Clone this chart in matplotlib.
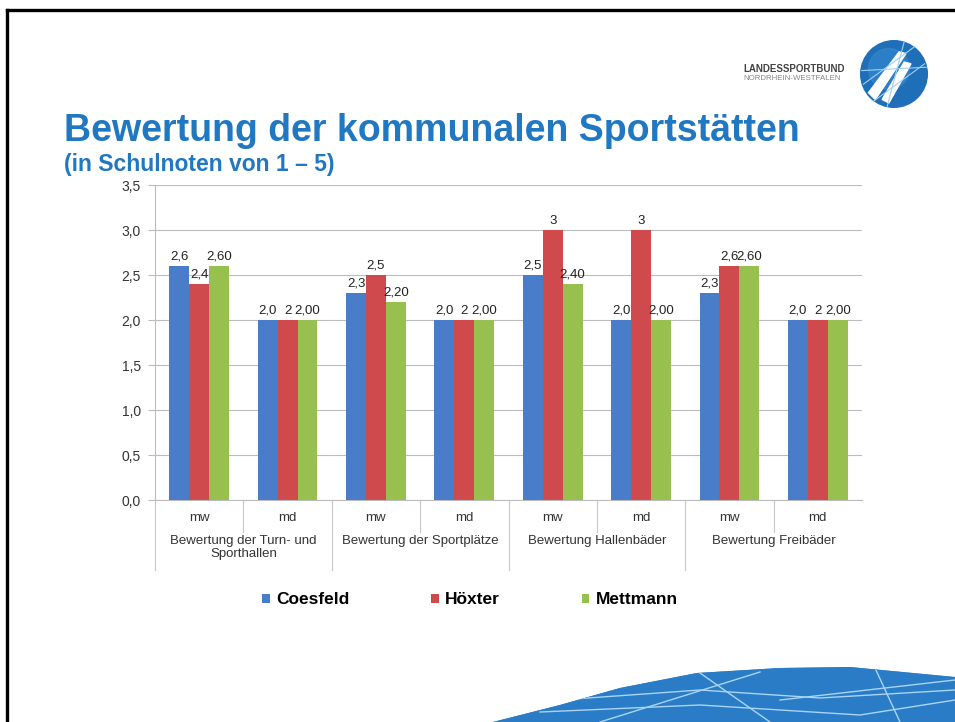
import matplotlib
matplotlib.use("Agg")
import matplotlib.pyplot as plt
import numpy as np
from matplotlib.patches import Circle, Polygon
from matplotlib.lines import Line2D

# ---- data ----
groups = ["Bewertung der Turn- und\nSporthallen", "Bewertung der Sportplätze",
          "Bewertung Hallenbäder", "Bewertung Freibäder"]
subcats = ["mw", "md"] * 4
series_names = ["Coesfeld", "Höxter", "Mettmann"]
coesfeld = [2.6, 2.0, 2.3, 2.0, 2.5, 2.0, 2.3, 2.0]
hoexter = [2.4, 2.0, 2.5, 2.0, 3.0, 3.0, 2.6, 2.0]
mettmann = [2.60, 2.00, 2.20, 2.00, 2.40, 2.00, 2.60, 2.00]
coesfeld_lbl = ["2,6", "2,0", "2,3", "2,0", "2,5", "2,0", "2,3", "2,0"]
hoexter_lbl = ["2,4", "2", "2,5", "2", "3", "3", "2,6", "2"]
mettmann_lbl = ["2,60", "2,00", "2,20", "2,00", "2,40", "2,00", "2,60", "2,00"]
yticks = [0.0, 0.5, 1.0, 1.5, 2.0, 2.5, 3.0, 3.5]
ytick_labels = ["0,0", "0,5", "1,0", "1,5", "2,0", "2,5", "3,0", "3,5"]

colors = ["#4a7dc9", "#cf4a4d", "#97c04f"]
title_blue = "#1f78c1"

W, H = 955, 722
fig = plt.figure(figsize=(W / 100, H / 100), dpi=100)
plt.rcParams['font.family'] = ['Liberation Sans', 'DejaVu Sans']

def fx(px):
    return px / W

def fy(py):
    return 1 - py / H

# frame lines (top and left)
fig.add_artist(Line2D([fx(7), 1], [fy(10), fy(10)], color="black", lw=2.4))
fig.add_artist(Line2D([fx(7), fx(7)], [fy(10), 0], color="black", lw=2.4))

# title
fig.text(fx(64), fy(131), "Bewertung der kommunalen Sportstätten", color=title_blue,
         fontsize=27, fontweight="bold", va="center", ha="left")
fig.text(fx(64), fy(165), "(in Schulnoten von 1 – 5)", color=title_blue,
         fontsize=16.5, fontweight="bold", va="center", ha="left")

# logo
fig.text(fx(743), fy(69), "LANDESSPORTBUND", color="#444444", fontsize=7,
         fontweight="bold", va="center", ha="left")
fig.text(fx(743), fy(79), "NORDRHEIN-WESTFALEN", color="#888888", fontsize=5.7,
         va="center", ha="left")
logo_ax = fig.add_axes([fx(860), fy(108), fx(68), 68 / H])
logo_ax.set_xlim(-1, 1)
logo_ax.set_ylim(-1, 1)
logo_ax.set_aspect("equal")
logo_ax.axis("off")
logo_ax.add_patch(Circle((0, 0), 0.98, color="#1f6fb8"))
logo_ax.add_patch(Circle((-0.15, 0.15), 0.6, color="#3a8fd6", alpha=0.5))
for (xs, ys) in [([-0.9, 0.6], [-0.3, 0.8]), ([-0.6, 0.9], [-0.8, 0.3]),
                 ([-0.95, 0.95], [0.1, 0.2]), ([-0.2, 0.3], [-0.95, 0.95])]:
    logo_ax.plot(xs, ys, color="#9fd0f5", lw=0.8)
logo_ax.add_patch(Polygon([(-0.55, -0.75), (0.35, 0.6), (0.15, 0.65), (-0.75, -0.55)],
                          color="white"))
logo_ax.add_patch(Polygon([(-0.15, -0.85), (0.5, 0.3), (0.3, 0.35), (-0.35, -0.75)],
                          color="white"))

# bottom swoosh
sw_ax = fig.add_axes([0, 0, 1, 1], zorder=-1)
sw_ax.set_xlim(0, W)
sw_ax.set_ylim(H, 0)
sw_ax.axis("off")
top_edge = [(493, 722), (560, 705), (620, 688), (697, 673), (780, 668), (850, 667), (955, 677)]
poly = Polygon(top_edge + [(955, 722)], closed=True, facecolor="#2a7cc6", edgecolor="none")
sw_ax.add_patch(poly)
grad = np.linspace(0, 1, 256).reshape(1, -1)
im = sw_ax.imshow(grad, extent=[490, 955, 722, 660], cmap=matplotlib.colors.LinearSegmentedColormap.from_list(
    "sw", ["#1d6fbd", "#2f82cc", "#5b9fd8"]), aspect="auto")
im.set_clip_path(poly)
for (xs, ys) in [([600, 760], [722, 672]), ([700, 770], [673, 722]),
                 ([560, 700, 820, 955], [700, 690, 698, 690]),
                 ([540, 700, 860, 955], [712, 705, 715, 700]),
                 ([780, 955], [700, 680]), ([875, 900], [668, 722])]:
    ln, = sw_ax.plot(xs, ys, color="#a8d4f5", lw=1.0)
    ln.set_clip_path(poly)

# main chart
ax = fig.add_axes([fx(155), fy(500), fx(707), 315 / H])
n = len(subcats)
x = np.arange(n)
bw = 0.225
data = [coesfeld, hoexter, mettmann]
labels = [coesfeld_lbl, hoexter_lbl, mettmann_lbl]
for i, (vals, lbls, c, name) in enumerate(zip(data, labels, colors, series_names)):
    pos = x + (i - 1) * bw
    ax.bar(pos, vals, width=bw, color=c, label=name, zorder=3)
    for p, v, l in zip(pos, vals, lbls):
        ax.annotate(l, (p, v), xytext=(0, 2.5), textcoords="offset points",
                    ha="center", va="bottom", fontsize=9.5, color="#222222", zorder=4)

ax.set_xlim(-0.5, n - 0.5)
ax.set_ylim(0, 3.5)
ax.set_yticks(yticks)
ax.set_yticklabels(ytick_labels, fontsize=10, color="#333333")
ax.yaxis.grid(True, color="#bcbcbc", lw=0.8, zorder=0)
ax.set_xticks([])
for s in ["top", "right"]:
    ax.spines[s].set_visible(False)
ax.spines["left"].set_color("#bcbcbc")
ax.spines["bottom"].set_color("#bcbcbc")
ax.tick_params(axis="y", length=5, color="#bcbcbc", pad=5)

trans = ax.get_xaxis_transform()
for i, s in enumerate(subcats):
    ax.text(x[i], -18 / 315, s, transform=trans, ha="center", va="center",
            fontsize=9.5, color="#333333")
for g, name in enumerate(groups):
    ax.text(2 * g + 0.5, -35 / 315, name, transform=trans, ha="center", va="top",
            fontsize=9.5, color="#333333", linespacing=1.1)
for b in np.arange(-0.5, n - 0.5, 1.0):
    k = int(round(b + 0.5))
    y1 = -32 / 315 if k % 2 == 1 else -70 / 315
    ax.add_line(Line2D([b, b], [0, y1], transform=trans, color="#c8c8c8", lw=0.8,
                       clip_on=False))

leg = fig.legend(loc="center", bbox_to_anchor=(fx(470), fy(600)), ncol=3, frameon=False,
                 prop={"weight": "bold", "size": 12.5}, handlelength=0.45, handleheight=0.45,
                 columnspacing=4.7, handletextpad=0.35)

fig.savefig("out.png", dpi=100)
